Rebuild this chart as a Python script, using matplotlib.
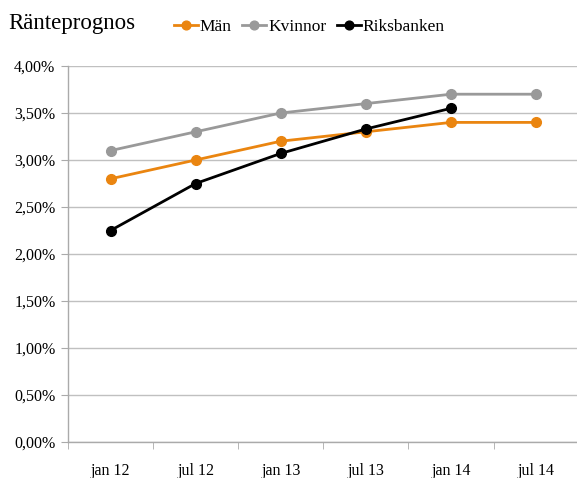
import matplotlib
matplotlib.use("Agg")
import matplotlib.pyplot as plt
from matplotlib.ticker import FuncFormatter, FixedLocator

plt.rcParams['font.family'] = ['Liberation Serif', 'DejaVu Serif']

categories = ["jan 12", "jul 12", "jan 13", "jul 13", "jan 14", "jul 14"]
man = [2.80, 3.00, 3.20, 3.30, 3.40, 3.40]
kvinnor = [3.10, 3.30, 3.50, 3.60, 3.70, 3.70]
riksbanken = [2.25, 2.75, 3.07, 3.33, 3.55]

fig = plt.figure(figsize=(5.77, 4.78), dpi=100)
ax = fig.add_axes([68/577, 36/478, 1 - 68/577 + 0.003, (442-66)/478])

x = list(range(len(categories)))
ax.plot(x, man, color="#ea8510", lw=2, marker="o", ms=7, label="Män", zorder=3)
ax.plot(x, kvinnor, color="#999999", lw=2, marker="o", ms=7, label="Kvinnor", zorder=3)
ax.plot(x[:len(riksbanken)], riksbanken, color="black", lw=2, marker="o", ms=7, label="Riksbanken", zorder=4)

ax.set_xlim(-0.5, 5.5)
ax.set_ylim(0, 4.0)
ax.set_yticks([i * 0.5 for i in range(9)])
ax.yaxis.set_major_formatter(FuncFormatter(lambda v, p: f"{v:.2f}%".replace(".", ",")))
ax.set_xticks(x)
ax.set_xticklabels(categories)
ax.xaxis.set_minor_locator(FixedLocator([i + 0.5 for i in range(-1, 6)]))
ax.tick_params(axis="x", which="major", length=0, pad=15, labelsize=11.5)
ax.tick_params(axis="x", which="minor", length=5, color="#aaaaaa", direction="out")
ax.tick_params(axis="y", length=5, color="#aaaaaa", labelsize=11.5, pad=4)

ax.grid(axis="y", color="#c0c0c0", lw=1)
ax.set_axisbelow(True)
for s in ["top", "right"]:
    ax.spines[s].set_visible(False)
for s in ["left", "bottom"]:
    ax.spines[s].set_color("#aaaaaa")
    ax.spines[s].set_linewidth(1)

fig.text(8/577, 1 - 23/478, "Ränteprognos", fontsize=16.5, va="center", ha="left")
fig.legend(loc="center left", bbox_to_anchor=(158/577, 1 - 27/478), ncol=3, frameon=False,
           handlelength=1.4, handletextpad=0.1, columnspacing=0.6, fontsize=12.5,
           markerscale=0.9)

fig.savefig("out.png", dpi=100)
